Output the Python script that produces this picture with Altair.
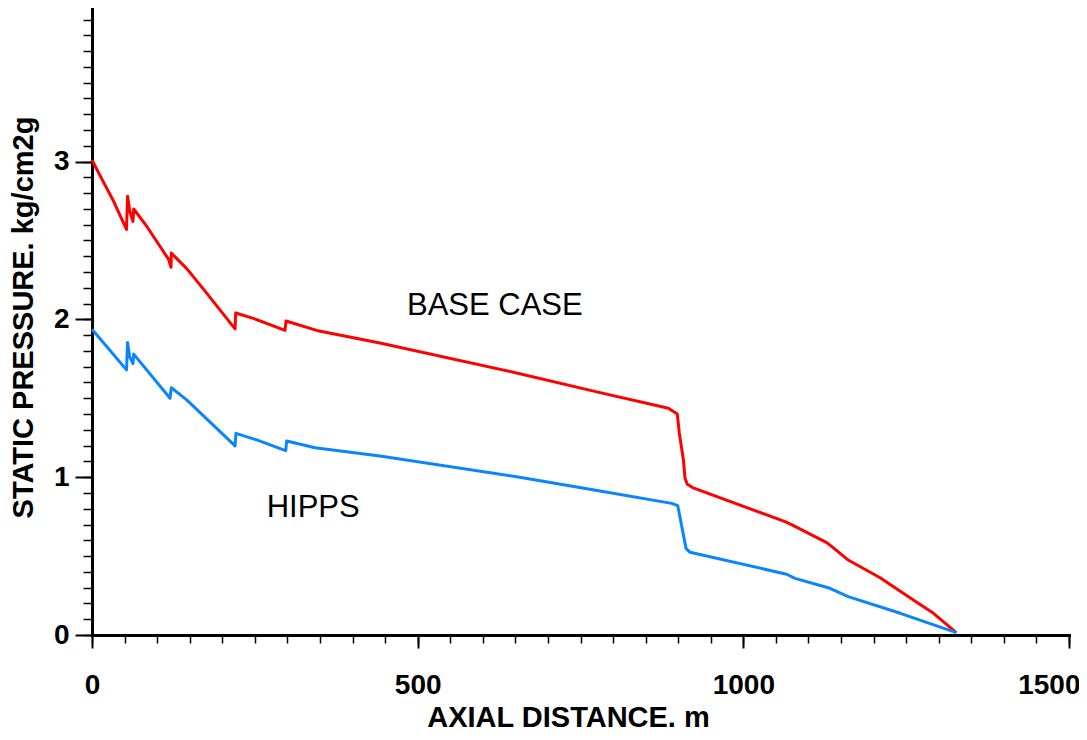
import altair as alt
import pandas as pd

# ---- data ----
series_names = ["BASE CASE", "HIPPS"]
series_colors = ["#FF0000", "#0A85FF"]

red_x = [0, 15, 33, 53, 54.6, 57.8, 62.9, 64, 84, 117.6, 121.3, 121.8, 145.8, 171.4,
         219.6, 220.6, 247.8, 296.3, 297.9, 345, 442, 647, 780, 885, 898.6, 901.7,
         908, 910.5, 914, 922, 1064, 1077, 1128, 1136, 1161, 1210, 1261, 1292, 1327]
red_y = [3.01, 2.89, 2.75, 2.57, 2.78, 2.69, 2.62, 2.70, 2.59, 2.38, 2.33, 2.42, 2.32, 2.19,
         1.94, 2.04, 2.006, 1.93, 1.99, 1.93, 1.85, 1.665, 1.536, 1.437, 1.40, 1.28,
         1.109, 0.993, 0.955, 0.934, 0.718, 0.693, 0.585, 0.56, 0.475, 0.363, 0.222, 0.1375, 0.015]

blue_x = [0, 53, 54.6, 57.8, 62.9, 64, 119.8, 121.8, 145.4, 219.6, 221, 252.9, 297.4, 298.9,
          342.4, 442, 652, 780, 890, 899.3, 912, 918.2, 1066.6, 1079.4, 1133, 1161, 1241, 1327]
blue_y = [1.937, 1.68, 1.853, 1.764, 1.72, 1.78, 1.50, 1.567, 1.49, 1.198, 1.278, 1.236, 1.168, 1.229,
          1.187, 1.134, 1.003, 0.9125, 0.834, 0.82, 0.549, 0.524, 0.385, 0.359, 0.296, 0.243, 0.1375, 0.015]

x_major = [0, 500, 1000, 1500]
x_last = 1500
x_minor = list(range(0, 1501, 50))
y_major = [0, 1, 2, 3]
y_minor = [round(i * 0.1, 1) for i in range(0, 40)]

label_text = ["BASE CASE", "HIPPS"]
label_x = [483.6, 268.2]
label_y = [2.028, 0.748]

# ---- tables ----
rows = []
for name, xs, ys in [(series_names[0], red_x, red_y), (series_names[1], blue_x, blue_y)]:
    for i, (xv, yv) in enumerate(zip(xs, ys)):
        rows.append({"series": name, "x": xv, "y": yv, "i": i})
df = pd.DataFrame(rows)
labels_df = pd.DataFrame({"t": label_text, "x": label_x, "y": label_y})

FONT = "Liberation Sans"
xscale = alt.Scale(domain=[0, 1500], nice=False, zero=False)
yscale = alt.Scale(domain=[0, 3.973], nice=False, zero=False)

# major x axis: ticks at all majors, labels for all but the last one
x_axis_major = alt.Axis(
    orient="bottom", values=x_major, grid=False, format="d",
    labelExpr=f"datum.value == {x_last} ? '' : datum.label",
    domainWidth=3, domainColor="black", domainCap="square",
    tickSize=13, tickWidth=2, tickColor="black",
    labelFont=FONT, labelFontSize=28, labelFontWeight="bold", labelColor="black",
    labelBaseline="alphabetic", labelAlign="center", labelPadding=45,
    labelFlush=False, labelOverlap=False, labelBound=False,
    title="AXIAL DISTANCE. m", titleFont=FONT, titleFontSize=29, titleFontWeight="bold",
    titleColor="black", titleX=476, titleY=91, titleBaseline="alphabetic", titleAlign="center",
)
y_axis_major = alt.Axis(
    orient="left", values=y_major, grid=False, format="d",
    domainWidth=3, domainColor="black", domainCap="square",
    tickSize=17, tickWidth=2, tickColor="black",
    labelFont=FONT, labelFontSize=28, labelFontWeight="bold", labelColor="black",
    labelBaseline="middle", labelAlign="right", labelPadding=6,
    labelFlush=False, labelOverlap=False, labelBound=False,
    title="STATIC PRESSURE. kg/cm2g", titleFont=FONT, titleFontSize=29, titleFontWeight="bold",
    titleColor="black", titleX=-59.5, titleY=309, titleBaseline="alphabetic", titleAlign="center",
    titleAngle=270,
)
# minor x axis: minor ticks, and the last major label pulled inside the frame
x_axis_minor = alt.Axis(
    orient="bottom", values=x_minor, grid=False, domain=False, format="d",
    labelExpr=f"datum.value == {x_last} ? datum.label : ''",
    labelFont=FONT, labelFontSize=28, labelFontWeight="bold", labelColor="black",
    labelBaseline="alphabetic", labelAlign="right", labelPadding=50, labelOffset=11,
    labelFlush=False, labelOverlap=False, labelBound=False,
    tickSize=8, tickWidth=1.5, tickColor="black", title="",
)
y_axis_minor = alt.Axis(orient="left", values=y_minor, grid=False, domain=False, labels=False,
                        tickSize=9, tickWidth=1.5, tickColor="black", title="")

lines = alt.Chart(df).mark_line(strokeWidth=3, strokeJoin="round").encode(
    x=alt.X("x:Q", scale=xscale, axis=x_axis_major),
    y=alt.Y("y:Q", scale=yscale, axis=y_axis_major),
    color=alt.Color("series:N", scale=alt.Scale(domain=series_names, range=series_colors), legend=None),
    order=alt.Order("i:Q"),
)

minor = alt.Chart(df).mark_point(opacity=0).encode(
    x=alt.X("x:Q", scale=xscale, axis=x_axis_minor),
    y=alt.Y("y:Q", scale=yscale, axis=y_axis_minor),
)

texts = alt.Chart(labels_df).mark_text(
    font=FONT, fontSize=31, align="left", baseline="alphabetic", color="black"
).encode(
    x=alt.X("x:Q", scale=xscale, axis=None),
    y=alt.Y("y:Q", scale=yscale, axis=None),
    text="t:N",
)

chart = alt.layer(minor, lines, texts).resolve_axis(
    x="independent", y="independent"
).properties(
    width=977, height=627,
    autosize=alt.AutoSizeParams(type="none"),
    padding={"left": 84, "top": 0, "right": 10, "bottom": 97},
).configure_view(stroke=None)

chart.save("out.html", embed_options={"renderer": "svg", "actions": False})
